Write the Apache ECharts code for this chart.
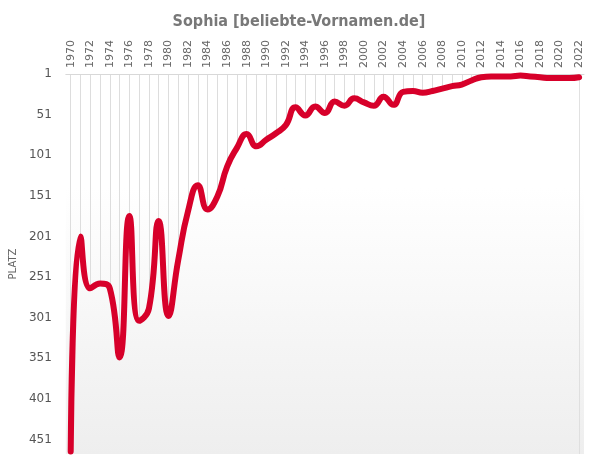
<!DOCTYPE html>
<html>
<head>
<meta charset="utf-8">
<script src="https://cdn.jsdelivr.net/npm/echarts@6/dist/echarts.min.js"></script>
<style>
html,body{margin:0;padding:0;background:#fff;}
#c{width:598px;height:470px;}
</style>
</head>
<body>
<div id="c"></div>
<script>
const titleText = 'Sophia [beliebte-Vornamen.de]';
const years = ['1970','1971','1972','1973','1974','1975','1976','1977','1978','1979',
  '1980','1981','1982','1983','1984','1985','1986','1987','1988','1989',
  '1990','1991','1992','1993','1994','1995','1996','1997','1998','1999',
  '2000','2001','2002','2003','2004','2005','2006','2007','2008','2009',
  '2010','2011','2012','2013','2014','2015','2016','2017','2018','2019',
  '2020','2021','2022'];
const ranks = [466,201,265,259,265,350,176,305,290,182,
  299,230,170,138,168,152,115,92,75,90,
  82,74,64,42,52,41,49,35,40,31,
  36,40,29,39,23,22,24,22,19,16,
  14,9,5,4,4,4,3,4,5,6,
  6,6,5];
const yAxisName = 'PLATZ';
const yMin = 1, yMax = 469, yStep = 50;

const gridTop = 74, gridBottom = 16, H = 470;
function fade(global){
  const g = {type:'linear', x:0, y:0, x2:0, y2:1,
    colorStops:[{offset:0,color:'#ffffff'},{offset:0.3,color:'#ffffff'},{offset:1,color:'#eeeeee'}]};
  if (global){ g.global = true; g.y = gridTop; g.y2 = H - gridBottom; }
  return g;
}

const chart = echarts.init(document.getElementById('c'), null, {renderer:'canvas'});
chart.setOption({
  animation:false,
  backgroundColor:'#ffffff',
  title:{
    text:titleText, left:'center', top:9,
    textStyle:{fontFamily:'DejaVu Sans Condensed', fontWeight:'bold', fontSize:16, color:'#787878'}
  },
  grid:{
    left:65, right:14, top:gridTop, bottom:gridBottom, show:true, borderWidth:0,
    backgroundColor:fade(false)
  },
  xAxis:{
    type:'category', position:'top', data:years, boundaryGap:true,
    axisLine:{show:true, lineStyle:{color:'#d8d8d8', width:1}},
    axisTick:{show:false},
    axisLabel:{interval:1, rotate:-90, color:'#666666', fontSize:11, fontFamily:'DejaVu Sans', margin:6},
    splitLine:{show:true, interval:0, alignWithLabel:true, lineStyle:{color:'#dddddd', width:1}}
  },
  yAxis:{
    type:'value', inverse:true, min:yMin, max:yMax, interval:yStep,
    name:yAxisName, nameLocation:'middle', nameGap:35, nameRotate:90,
    nameTextStyle:{color:'#666666', fontSize:10, fontFamily:'DejaVu Sans'},
    axisLine:{show:false}, axisTick:{show:false},
    axisLabel:{color:'#555555', fontSize:12, fontFamily:'DejaVu Sans', margin:14, showMaxLabel:false},
    splitLine:{show:false}
  },
  series:[{
    type:'line', data:ranks, smooth:0.5, symbol:'none',
    lineStyle:{color:'#d7002a', width:6, cap:'round', join:'round'},
    areaStyle:{origin:'end', color:fade(true), opacity:1}
  }]
});
</script>
</body>
</html>
